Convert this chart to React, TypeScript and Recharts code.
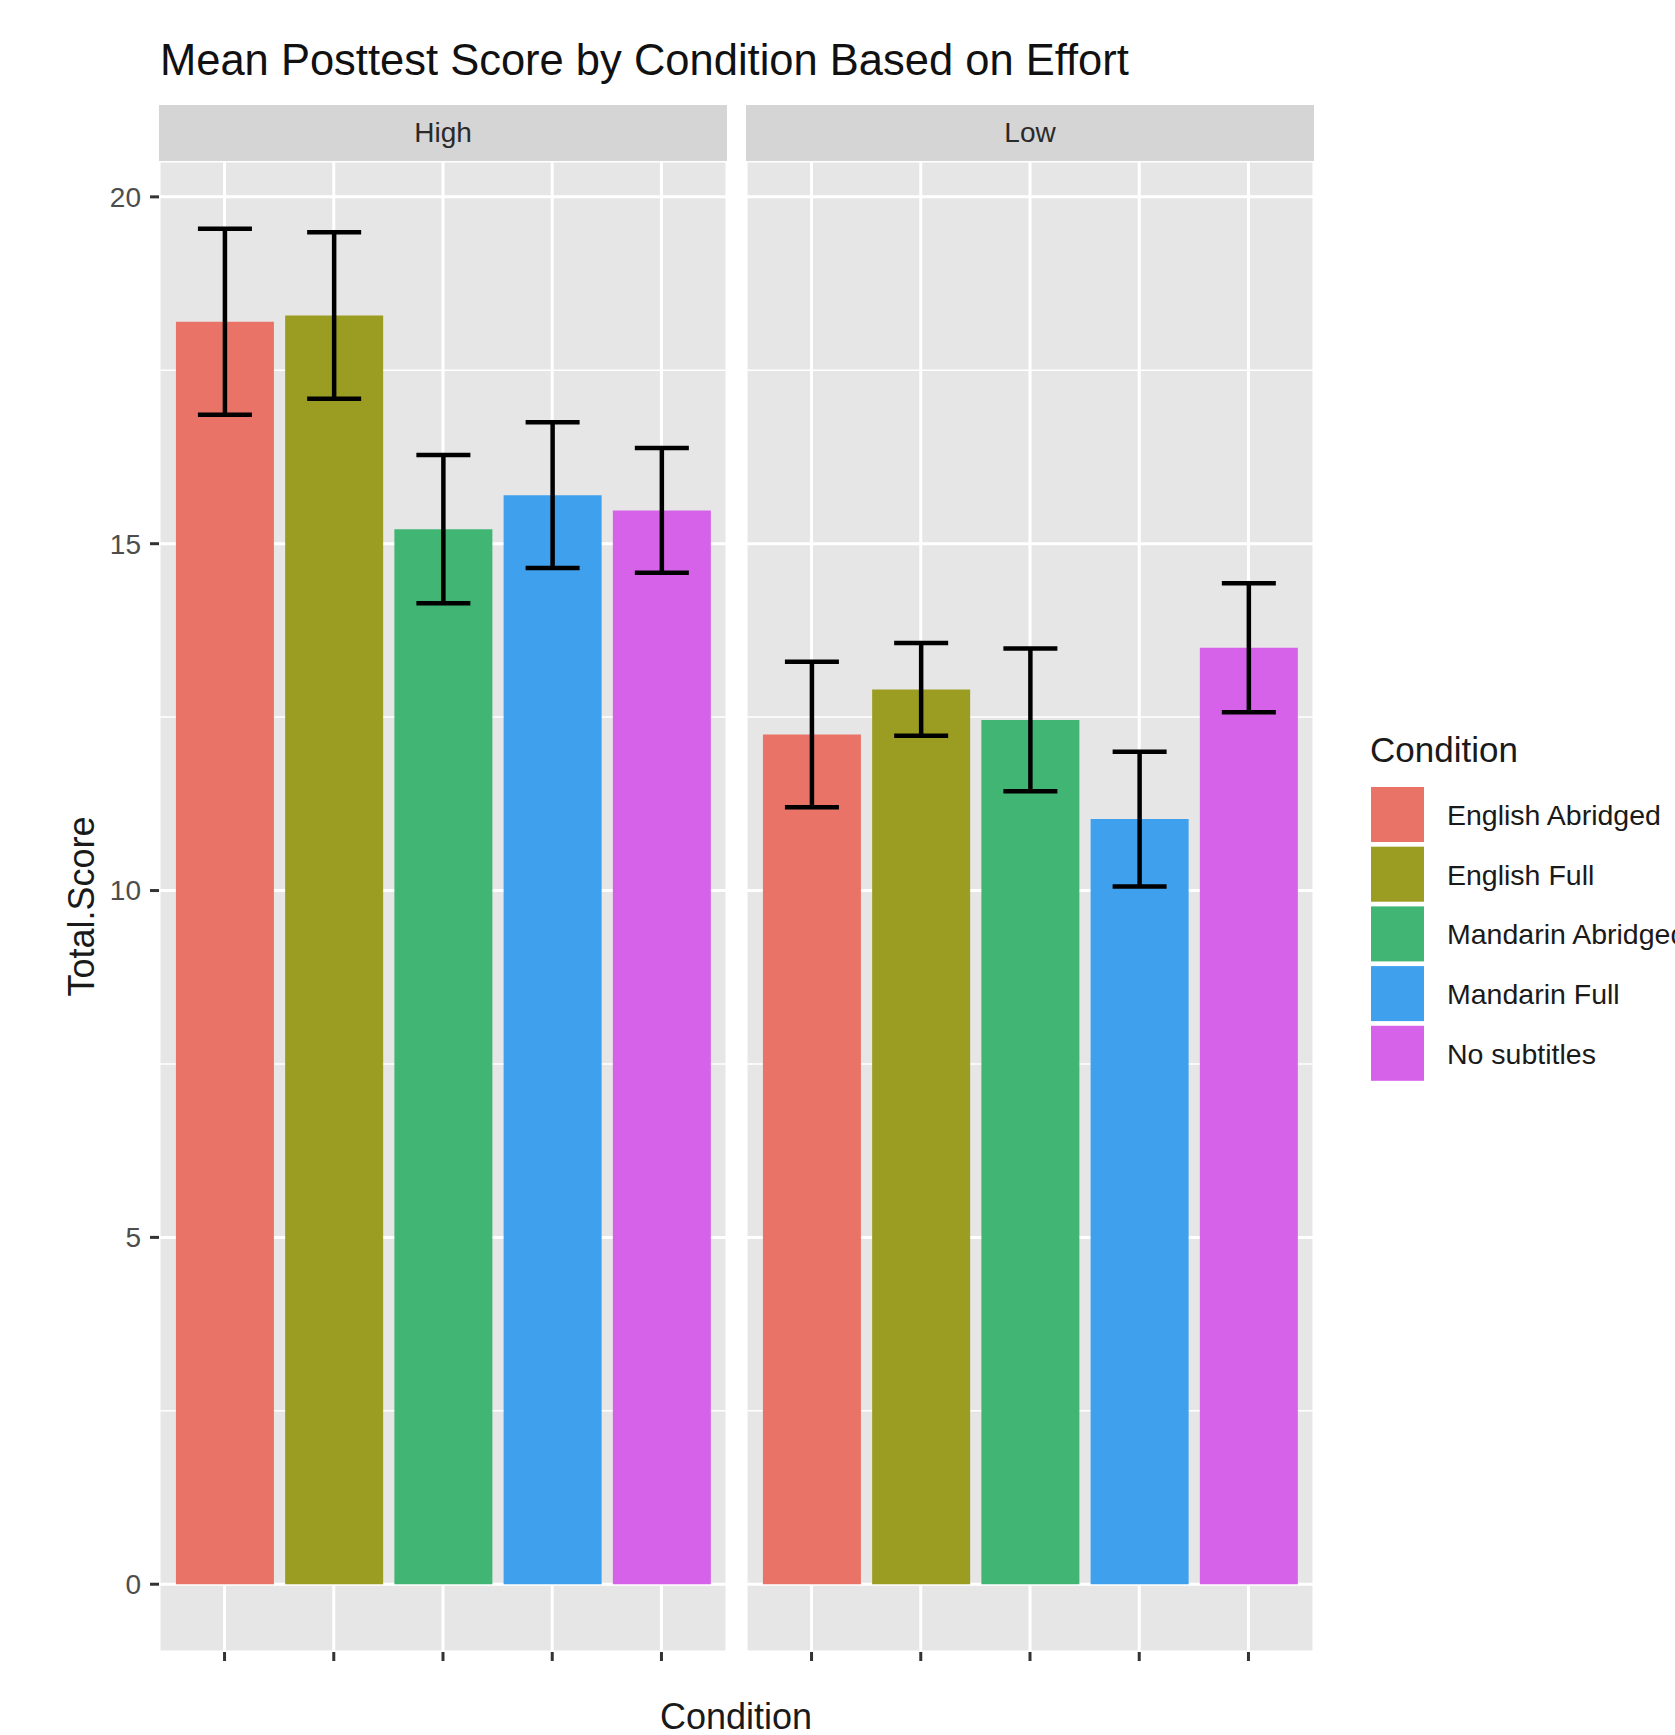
import React from 'react'
import {
  BarChart,
  Bar,
  Cell,
  ErrorBar,
  XAxis,
  YAxis,
  CartesianGrid,
} from 'recharts'

// ── data ────────────────────────────────────────────────────────
const CONDITIONS = [
  'English Abridged',
  'English Full',
  'Mandarin Abridged',
  'Mandarin Full',
  'No subtitles',
]
const COLORS = ['#E97366', '#9A9D22', '#40B574', '#3FA0EE', '#D662EA']

const HIGH_MEAN = [18.2, 18.29, 15.21, 15.7, 15.48]
const HIGH_SE = [1.34, 1.2, 1.07, 1.05, 0.9]
const LOW_MEAN = [12.25, 12.9, 12.46, 11.03, 13.5]
const LOW_SE = [1.05, 0.67, 1.03, 0.97, 0.93]

const Y_TICKS = [0, 5, 10, 15, 20]
const Y_MINOR = [2.5, 7.5, 12.5, 17.5]
const FACETS = ['High', 'Low']

// ── layout ──────────────────────────────────────────────────────
const W = 1675
const H = 1735
const FONT = '"Liberation Sans", Arial, sans-serif'
const PANEL_TOP = 161
const PANEL_BOTTOM = 1652
const PANEL_W = 568
const PANEL_LEFT = [159, 746]
const STRIP_TOP = 105
const X_AXIS_H = 30
const BAND = PANEL_W / 5.2

// ggplot-style 5% expansion of the data range
const tops = [
  ...HIGH_MEAN.map((m, i) => m + HIGH_SE[i]),
  ...LOW_MEAN.map((m, i) => m + LOW_SE[i]),
]
const yMax = Math.max(...tops)
const yPad = yMax * 0.05
const Y_DOMAIN: [number, number] = [-yPad, yMax + yPad]

const highData = CONDITIONS.map((name, i) => ({ name, mean: HIGH_MEAN[i], se: HIGH_SE[i] }))
const lowData = CONDITIONS.map((name, i) => ({ name, mean: LOW_MEAN[i], se: LOW_SE[i] }))

type Row = { name: string; mean: number; se: number }

function Panel({ data, showY }: { data: Row[]; showY: boolean }) {
  const yW = showY ? PANEL_LEFT[0] : 0
  return (
    <BarChart
      width={PANEL_W + yW}
      height={H}
      data={data}
      margin={{ top: PANEL_TOP, right: 0, left: 0, bottom: H - PANEL_BOTTOM - X_AXIS_H }}
    >
      <CartesianGrid fill="#E6E6E6" stroke="#FFFFFF" strokeWidth={3} />
      <CartesianGrid
        horizontalValues={Y_MINOR}
        vertical={false}
        stroke="#FFFFFF"
        strokeWidth={1.5}
      />
      <XAxis
        dataKey="name"
        height={X_AXIS_H}
        padding={{ left: BAND * 0.1, right: BAND * 0.1 }}
        tickFormatter={() => ''}
        axisLine={false}
        tickSize={9}
        tickLine={{ stroke: '#333333', strokeWidth: 3 }}
        interval={0}
      />
      <YAxis
        hide={!showY}
        width={yW}
        type="number"
        domain={Y_DOMAIN}
        ticks={Y_TICKS}
        allowDataOverflow
        interval={0}
        axisLine={false}
        tickSize={9}
        tickMargin={9}
        tickLine={{ stroke: '#333333', strokeWidth: 3 }}
        tick={{ fill: '#4D4D4D', fontSize: 28, fontFamily: FONT }}
      />
      <Bar dataKey="mean" barSize={98} isAnimationActive={false}>
        {data.map((d, i) => (
          <Cell key={d.name} fill={COLORS[i]} />
        ))}
        <ErrorBar
          dataKey="se"
          width={27}
          strokeWidth={4.5}
          stroke="#000000"
          isAnimationActive={false}
        />
      </Bar>
    </BarChart>
  )
}

export default function App() {
  return (
    <div
      style={{
        position: 'absolute', left: 0, top: 0, width: W, height: H,
        overflow: 'hidden', background: '#FFFFFF', fontFamily: FONT,
      }}
    >
      <div style={{ position: 'absolute', left: 0, top: 0 }}>
        <Panel data={highData} showY />
      </div>
      <div style={{ position: 'absolute', left: PANEL_LEFT[1], top: 0 }}>
        <Panel data={lowData} showY={false} />
      </div>

      {/* titles, strips, legend */}
      <svg
        width={W}
        height={H}
        style={{ position: 'absolute', left: 0, top: 0, pointerEvents: 'none', fontFamily: FONT }}
      >
        <text x={160} y={75} fontSize={43.5} fill="#111111">
          Mean Posttest Score by Condition Based on Effort
        </text>

        {FACETS.map((f, i) => (
          <g key={f}>
            <rect
              x={PANEL_LEFT[i]}
              y={STRIP_TOP}
              width={PANEL_W}
              height={PANEL_TOP - STRIP_TOP}
              fill="#D5D5D5"
            />
            <text
              x={PANEL_LEFT[i] + PANEL_W / 2}
              y={142}
              fontSize={28}
              fill="#2A2A2A"
              textAnchor="middle"
            >
              {f}
            </text>
          </g>
        ))}

        <text
          x={94}
          y={(PANEL_TOP + PANEL_BOTTOM) / 2}
          fontSize={36}
          fill="#1A1A1A"
          textAnchor="middle"
          transform={`rotate(-90, 94, ${(PANEL_TOP + PANEL_BOTTOM) / 2})`}
        >
          Total.Score
        </text>
        <text x={736} y={1729} fontSize={36} fill="#1A1A1A" textAnchor="middle">
          Condition
        </text>

        <text x={1370} y={762} fontSize={35} fill="#1A1A1A">Condition</text>
        {CONDITIONS.map((c, i) => (
          <g key={c}>
            <rect x={1371} y={787 + i * 59.7} width={53} height={55} fill={COLORS[i]} />
            <text x={1447} y={825 + i * 59.7} fontSize={28.5} fill="#1A1A1A">
              {c}
            </text>
          </g>
        ))}
      </svg>
    </div>
  )
}
